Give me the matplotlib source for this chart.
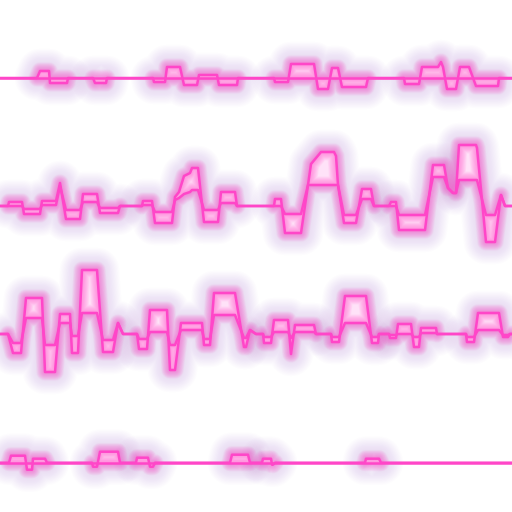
import matplotlib
matplotlib.use("Agg")
import matplotlib.pyplot as plt
import numpy as np

# Vertical position of each row's baseline (chart units)
row_offsets = [434, 306, 178, 49.3]

# Each row: (x, outer value, inner value) vertices
row1 = [(0,0,0),(37,0,0),(40,7,0),(49,7,0),(50,-5,0),(67,-5,0),(68,0,0),(93,0,0),(95,-5,0),(106,-5,0),
        (107,0,0),(153,0,0),(154,-4,0),(165,-4,0),(167,11,0),(180,11,0),(184,-7,0),(197,-7,0),(199,3,0),
        (217,3,0),(219,-7,0),(237,-7,0),(238,0,0),(274,0,0),(275,-4,0),(288,-4,0),(291,14,0),(314,14,0),
        (318,-11,0),(328,-11,0),(332,10,0),(338,10,0),(342,-9,0),(366,-9,0),(368,0,0),(404,0,0),(405,-6,0),
        (419,-6,0),(422,11,0),(438,11,0),(441,16,0),(443,11,0),(447,-11,0),(456,-11,0),(460,11,0),(469,11,0),
        (476,-8,0),(498,-8,0),(499,0,0),(512,0,0)]
row2 = [(0,0,0),(8,0,0),(9,4,0),(22,4,0),(24,-8,-3),(40,-8,-3),(42,5,1),(56,5,1),(60,23,20),(66,-13,-4),
        (80,-13,-4),(83,12,4),(97,12,4),(100,-7,-2),(118,-7,-2),(120,0,0),(142,0,0),(143,5,1),(152,5,1),
        (155,-17,-6),(172,-17,-6),(175,9,6),(179,14,8),(184,30,12),(190,33,14),(192,38,16),(198,38,16),
        (204,-16,-4),(218,-16,-4),(221,14,3),(235,14,3),(237,0,0),(274,0,0),(275,7,0),(281,7,0),(285,-27,-8),
        (301,-27,-8),(308,21,21),(311,42,21),(321,54,21),(334,54,21),(336,50,21),(338,21,21),(344,-17,-9),
        (356,-17,-9),(362,17,7),(371,17,7),(374,0,0),(389,0,0),(391,4,0),(396,4,0),(399,-24,-9),(425,-24,-9),
        (433,41,29),(444,41,29),(448,18,18),(453,13,13),(456,13,13),(459,61,26),(476,61,26),(477,58,26),
        (486,-36,-9),(495,-36,-9),(501,11,11),(505,0,0),(512,0,0)]
row3 = [(0,0,0),(8,0,0),(13,-19,-9),(21,-19,-9),(26,36,16),(42,36,16),(45,-38,-11),(55,-38,-11),(60,20,11),
        (70,20,11),(72,-19,-2),(78,-19,-2),(82,64,21),(97,64,21),(103,-18,-6),(113,-18,-6),(118,11,11),
        (123,0,0),(137,0,0),(139,-15,-5),(147,-15,-5),(150,24,2),(167,24,2),(170,-36,-11),(175,-36,-11),
        (181,11,4),(202,11,4),(204,-11,-5),(210,-11,-5),(214,41,19),(235,41,19),(244,-13,-4),(246,-13,-4),
        (250,4,4),(256,0,0),(263,0,0),(264,-9,-3),(271,-9,-3),(274,14,2),(288,14,2),(291,-20,-4),(295,9,2),
        (314,9,2),(316,0,0),(331,0,0),(332,-8,-3),(339,-8,-3),(345,38,11),(366,38,11),(372,-9,-3),(378,-9,-3),
        (379,0,0),(389,0,0),(390,-4,-1),(396,-4,-1),(398,10,0),(411,10,0),(414,-13,-3),(419,-13,-3),(421,6,1),
        (436,6,1),(437,0,0),(466,0,0),(467,-8,-3),(474,-8,-3),(478,21,4),(499,21,4),(503,-3,-1),(508,-3,-1),
        (510,0,0),(512,0,0)]
row4 = [(0,0,0),(9,0,0),(11,7,0),(25,7,0),(27,-7,0),(32,-7,0),(33,4,0),(45,4,0),(47,0,0),(92,0,0),(93,-4,0),
        (97,-4,0),(100,11,0),(118,11,0),(120,0,0),(136,0,0),(137,5,0),(148,5,0),(150,-4,0),(153,-4,0),
        (155,0,0),(230,0,0),(232,8,0),(248,8,0),(250,0,0),(262,0,0),(263,4,0),(271,4,0),(272,-2,0),(273,-2,0),
        (275,0,0),(365,0,0),(366,4,0),(379,4,0),(381,0,0),(512,0,0)]
rows = [row1, row2, row3, row4]

LINE = "#ff46c8"
GLOW_OUT = "#9a3cc4"
GLOW_IN = "#ff46c8"
FILL = "#ffe2f8"

fig = plt.figure(figsize=(5.12, 5.12), dpi=100)
ax = fig.add_axes([0, 0, 1, 1])
ax.set_xlim(0, 512)
ax.set_ylim(0, 512)
ax.axis("off")
fig.patch.set_facecolor("white")


def band_runs(outer, inner):
    """Index slices covering segments where the two lines differ."""
    nz = outer != inner
    active = nz[:-1] | nz[1:]
    runs, start = [], None
    for i, a in enumerate(active):
        if a and start is None:
            start = i
        if not a and start is not None:
            runs.append(slice(start, i + 1))
            start = None
    if start is not None:
        runs.append(slice(start, len(outer)))
    return runs


for base, row in zip(row_offsets, rows):
    arr = np.array(row, dtype=float)
    x, outer, inner = arr[:, 0], base + arr[:, 1], base + arr[:, 2]
    runs = band_runs(outer, inner)
    for s in runs:
        for i in range(1, 19):
            ax.fill_between(x[s], inner[s], outer[s], facecolor="none",
                            edgecolor=GLOW_OUT, linewidth=1.5 + i * 1.7, alpha=0.011,
                            joinstyle="round", zorder=1)
    for s in runs:
        ax.fill_between(x[s], inner[s], outer[s], color=FILL, lw=0, zorder=2)
        for i in range(1, 10):
            ax.fill_between(x[s], inner[s], outer[s], facecolor="none",
                            edgecolor=GLOW_IN, linewidth=1.5 + i * 1.2, alpha=0.065,
                            joinstyle="round", zorder=3)
    for y in (outer, inner):
        ax.plot(x, y, color=LINE, lw=1.8, solid_joinstyle="round", zorder=4)

fig.savefig("out.png", dpi=100, facecolor="white")
